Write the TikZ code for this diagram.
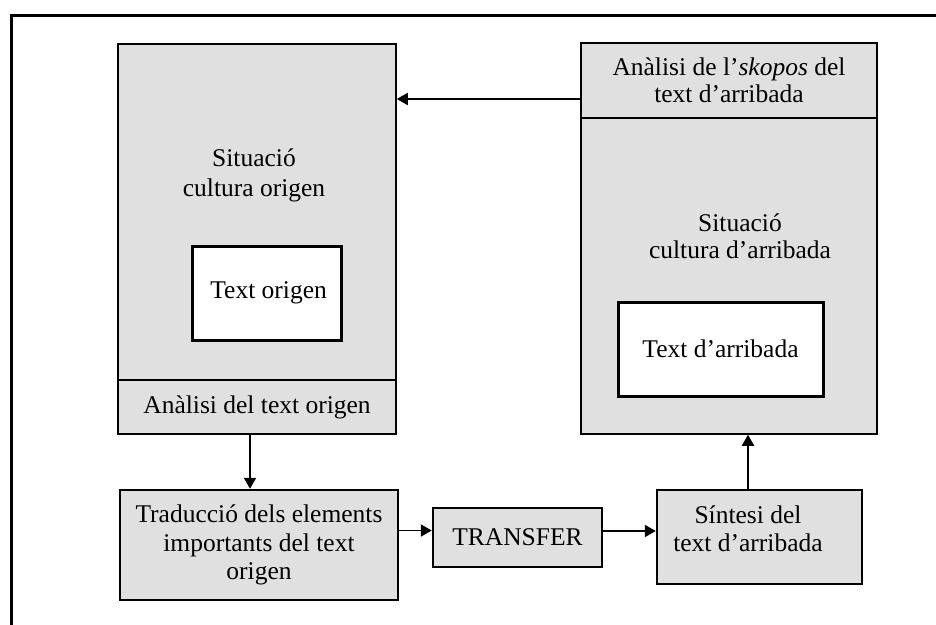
\documentclass[tikz,border=0pt]{standalone}
\usepackage{fontspec}
\setmainfont{Liberation Serif}
\usetikzlibrary{arrows.meta}
\begin{document}
\begin{tikzpicture}[x=1pt,y=-1pt,
  every node/.style={font=\fontsize{25.5}{28}\selectfont},
  shaded/.style={draw, fill=black!12, line width=1.5pt, inner sep=0pt},
  stage/.style={draw, fill=black!12, line width=2.4pt, inner sep=0pt, align=center},
  textbox/.style={draw, fill=white, line width=3pt, inner sep=0pt},
  txt/.style={align=center, inner sep=0pt},
  arr/.style={line width=1.8pt, -{Triangle[length=11pt,width=12pt]}},
]
\useasboundingbox (0,0) rectangle (936,624);

% open frame round the figure
\draw[line width=3pt] (11,640) -- (11,15) -- (950,15);

% source-culture block
\node[shaded, minimum width=278pt, minimum height=336pt] (ltop) at (257,212) {};
\node[shaded, minimum width=278pt, minimum height=54pt] (lbot) at (257,407) {Anàlisi del text origen};
\node[txt, font=\fontsize{25.5}{30}\selectfont] (lsit) at (254,175) {Situació\\cultura origen};
\node[textbox, minimum width=149pt, minimum height=94pt] (tor) at (266.5,293) {\,Text origen};

% target-culture block
\node[shaded, minimum width=296pt, minimum height=75pt, align=center,
      font=\fontsize{25.5}{26.5}\selectfont] (rtop) at (729,80.5)
      {Anàlisi de l’\textit{skopos} del\\text d’arribada};
\node[shaded, minimum width=296pt, minimum height=316pt] (rbot) at (729,276) {};
\node[txt, font=\fontsize{25.5}{27}\selectfont] (rsit) at (740,236.5) {Situació\\cultura d’arribada};
\node[textbox, minimum width=205pt, minimum height=94pt] (tarr) at (720.5,349) {Text d’arribada};

% translation stages
\node[stage, minimum width=278pt, minimum height=110pt,
      font=\fontsize{25.5}{28.5}\selectfont] (trad) at (259,545)
      {Traducció dels elements\\importants del text\\origen};
\node[stage, minimum width=169pt, minimum height=59pt] (transfer) at (517.5,537.5) {TRANSFER};
\node[stage, minimum width=205pt, minimum height=94pt] (sint) at (759.5,537) {};
\node[txt] (sintxt) at (748,529) {Síntesi del\\text d’arribada};

% connectors
\draw[arr] ([yshift=-18.5pt]rtop.west) -- ([yshift=-18.5pt]rtop.west -| ltop.east);
\draw[arr] ([xshift=-7pt]lbot.south) -- ([xshift=-7pt]lbot.south |- trad.north);
\draw[arr] ([yshift=7pt]transfer.west -| trad.east) -- ([yshift=7pt]transfer.west);
\draw[arr] ([yshift=6.5pt]transfer.east) -- ([yshift=6.5pt]transfer.east -| sint.west);
\draw[arr] ([xshift=-11.5pt]sint.north) -- ([xshift=-11.5pt]sint.north |- rbot.south);
\end{tikzpicture}
\end{document}
